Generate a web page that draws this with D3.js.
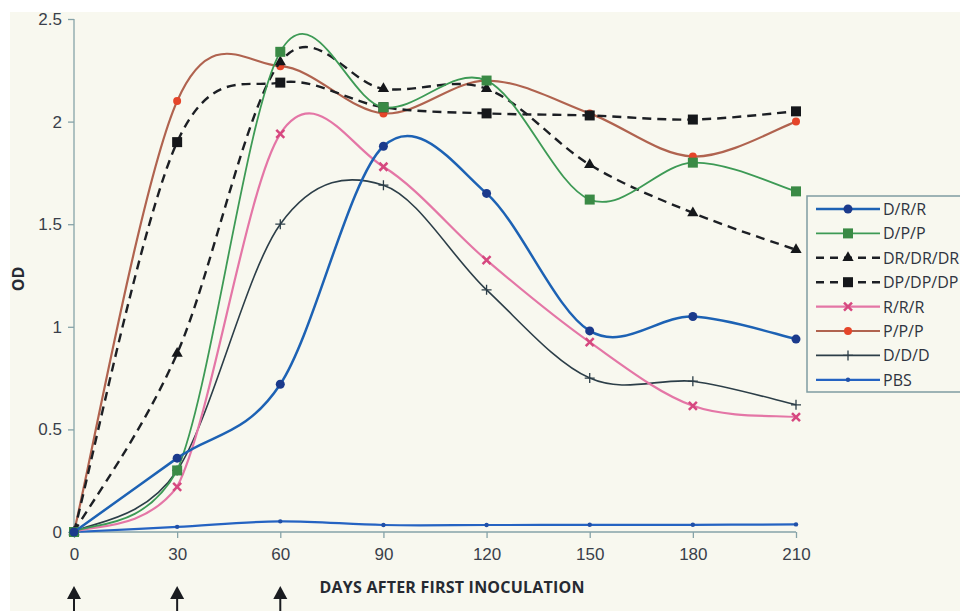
<!DOCTYPE html>
<html>
<head>
<meta charset="utf-8">
<script src="https://cdn.jsdelivr.net/npm/d3@7"></script>
<style>
  body { margin: 0; background: #ffffff; }
  svg { display: block; font-family: "Open Sans", "DejaVu Sans", sans-serif; }
  .tick text { font-size: 17px; fill: #3a3f4a; }
  .axis path, .axis line { stroke: #86a3a8; stroke-width: 1.3; }
  .lab { font-size: 16px; fill: #262a32; font-weight: 700; }
  .leg { font-size: 16px; fill: #2f3440; }
</style>
</head>
<body>
<script>
// canvas
var w = 960;
var h = 611;

// plot area (pixels)
var pdL = 74;
var pdR = 796;
var pdT = 19;
var pdB = 532;

// data
var days = [0, 30, 60, 90, 120, 150, 180, 210];
var seriesNames = ["D/R/R", "D/P/P", "DR/DR/DR", "DP/DP/DP", "R/R/R", "P/P/P", "D/D/D", "PBS"];
var dRR   = [0, 0.36, 0.72, 1.88, 1.65, 0.98, 1.05, 0.94];
var dPP   = [0, 0.30, 2.34, 2.07, 2.20, 1.62, 1.80, 1.66];
var drDR  = [0, 0.87, 2.29, 2.16, 2.16, 1.79, 1.555, 1.375];
var dpDP  = [0, 1.90, 2.19, 2.07, 2.04, 2.03, 2.01, 2.05];
var rRR   = [0, 0.22, 1.94, 1.78, 1.325, 0.925, 0.615, 0.56];
var pPP   = [0, 2.10, 2.27, 2.04, 2.20, 2.04, 1.83, 2.00];
var dDD   = [0, 0.30, 1.50, 1.69, 1.18, 0.75, 0.735, 0.62];
var pbs   = [0, 0.025, 0.052, 0.034, 0.034, 0.035, 0.035, 0.037];
var yTicks = [0, 0.5, 1, 1.5, 2, 2.5];
var arrowDays = [0, 30, 60];

// style per series
var styles = [
  { line: "#1d62b4", mark: "#1b3a8c", shape: "circle", r: 4.5, width: 2.5, dash: null },
  { line: "#3d9a55", mark: "#3a8a45", shape: "square", width: 1.8, dash: null },
  { line: "#1c1f24", mark: "#15171a", shape: "triangle", width: 2.4, dash: "9,6" },
  { line: "#1c1f24", mark: "#15171a", shape: "square", width: 2.4, dash: "9,6" },
  { line: "#e476a6", mark: "#d6487f", shape: "cross", width: 2.2, dash: null },
  { line: "#b0634f", mark: "#e5452a", shape: "circle", r: 4, width: 2.2, dash: null },
  { line: "#2c3e48", mark: "#2c3e48", shape: "plus", width: 1.6, dash: null },
  { line: "#2563c2", mark: "#2050a8", shape: "circle", r: 2.2, width: 2.2, dash: null }
];
var allSeries = [dRR, dPP, drDR, dpDP, rRR, pPP, dDD, pbs];

var svg = d3.select("body").append("svg")
  .attr("width", w)
  .attr("height", h);

// scanned-paper background
svg.append("rect")
  .attr("x", 10).attr("y", 12)
  .attr("width", w - 10).attr("height", h - 12)
  .attr("fill", "#f8f8ef");

var scaleX = d3.scaleLinear().domain([0, 210]).range([pdL, pdR]);
var scaleY = d3.scaleLinear().domain([0, 2.5]).range([pdB, pdT]);

// axes
var axisX = d3.axisBottom(scaleX).tickValues(days).tickSize(6).tickPadding(10);
var axisY = d3.axisLeft(scaleY).tickValues(yTicks).tickSize(6).tickPadding(6)
  .tickFormat(function(d) { return d; });

svg.append("g")
  .attr("class", "axis")
  .attr("transform", "translate(0," + pdB + ")")
  .call(axisX)
  .call(function(g) { g.select(".domain").attr("d", "M" + pdL + ",0H" + pdR); });

svg.append("g")
  .attr("class", "axis")
  .attr("transform", "translate(" + pdL + ",0)")
  .call(axisY)
  .call(function(g) { g.select(".domain").attr("d", "M0," + pdB + "V" + pdT); });

// marker drawing helper
var drawMarker = function(g, x, y, st) {
  var c = st.mark;
  if (st.shape === "square") {
    g.append("rect").attr("x", x - 5).attr("y", y - 5).attr("width", 10).attr("height", 10).attr("fill", c);
  } else if (st.shape === "triangle") {
    g.append("path").attr("d", d3.symbol(d3.symbolTriangle, 55)())
      .attr("transform", "translate(" + x + "," + y + ")").attr("fill", c);
  } else if (st.shape === "cross") {
    g.append("path").attr("d", "M" + (x - 4) + "," + (y - 4) + "L" + (x + 4) + "," + (y + 4) +
      "M" + (x + 4) + "," + (y - 4) + "L" + (x - 4) + "," + (y + 4))
      .attr("stroke", c).attr("stroke-width", 2.5);
  } else if (st.shape === "circle") {
    g.append("circle").attr("cx", x).attr("cy", y).attr("r", st.r).attr("fill", c);
  } else if (st.shape === "plus") {
    g.append("path").attr("d", "M" + (x - 5) + "," + y + "H" + (x + 5) + "M" + x + "," + (y - 5) + "V" + (y + 5))
      .attr("stroke", c).attr("stroke-width", 1.3);
  }
};

// smoothed line, like the spreadsheet's: catmull-rom handles (1/6 of the
// neighbour chord), but the incoming handle may not swing back past the
// segment's start (stops the wiggle below 0 next to day 0)
var smoothPath = function(vals) {
  var pts = vals.map(function(v, i) { return [scaleX(days[i]), scaleY(v)]; });
  var n = pts.length;
  var p = d3.path();
  p.moveTo(pts[0][0], pts[0][1]);
  for (var i = 0; i < n - 1; i++) {
    var p0 = pts[Math.max(i - 1, 0)];
    var p1 = pts[i];
    var p2 = pts[i + 1];
    var p3 = pts[Math.min(i + 2, n - 1)];
    var c1 = [p1[0] + (p2[0] - p0[0]) / 6, p1[1] + (p2[1] - p0[1]) / 6];
    var c2 = [p2[0] - (p3[0] - p1[0]) / 6, p2[1] - (p3[1] - p1[1]) / 6];
    if (p2[1] < p1[1]) {
      c2[1] = Math.min(c2[1], p1[1]);
    } else if (p2[1] > p1[1]) {
      c2[1] = Math.max(c2[1], p1[1]);
    }
    p.bezierCurveTo(c1[0], c1[1], c2[0], c2[1], p2[0], p2[1]);
  }
  return p.toString();
};

// draw in reverse so D/R/R ends up on top
for (var k = allSeries.length - 1; k >= 0; k--) {
  var st = styles[k];
  var g = svg.append("g");
  g.append("path")
    .attr("d", smoothPath(allSeries[k]))
    .attr("fill", "none")
    .attr("stroke", st.line)
    .attr("stroke-width", st.width)
    .attr("stroke-dasharray", st.dash);
  for (var i = 0; i < days.length; i++) {
    drawMarker(g, scaleX(days[i]), scaleY(allSeries[k][i]), st);
  }
}

// legend
var legX = 807, legY = 196, legH = 196, rowH = 24.4;
svg.append("rect")
  .attr("x", legX).attr("y", legY)
  .attr("width", w - legX + 10).attr("height", legH)
  .attr("fill", "#f8f8ef")
  .attr("stroke", "#7f9ca2")
  .attr("stroke-width", 1.5);

for (var k = 0; k < seriesNames.length; k++) {
  var st = styles[k];
  var ly = legY + 13 + k * rowH;
  var lg = svg.append("g");
  lg.append("line")
    .attr("x1", legX + 9).attr("x2", legX + 73)
    .attr("y1", ly).attr("y2", ly)
    .attr("stroke", st.line)
    .attr("stroke-width", st.width)
    .attr("stroke-dasharray", st.dash ? "8,6" : null);
  drawMarker(lg, legX + 41, ly, st);
  lg.append("text")
    .attr("class", "leg")
    .attr("x", legX + 76)
    .attr("y", ly + 6)
    .text(seriesNames[k]);
}

// axis titles
svg.append("text")
  .attr("class", "lab")
  .attr("x", 452)
  .attr("y", 593)
  .attr("text-anchor", "middle")
  .attr("textLength", 265)
  .text("DAYS AFTER FIRST INOCULATION");

svg.append("text")
  .attr("class", "lab")
  .attr("transform", "translate(24," + 279 + ") rotate(-90)")
  .attr("text-anchor", "middle")
  .text("OD");

// inoculation arrows
arrowDays.forEach(function(d) {
  var x = scaleX(d);
  svg.append("path")
    .attr("d", "M" + x + ",586L" + (x - 7) + ",599L" + (x + 7) + ",599Z")
    .attr("fill", "#1a1c20");
  svg.append("line")
    .attr("x1", x).attr("x2", x).attr("y1", 598).attr("y2", 611)
    .attr("stroke", "#1a1c20").attr("stroke-width", 2);
});
</script>
</body>
</html>
